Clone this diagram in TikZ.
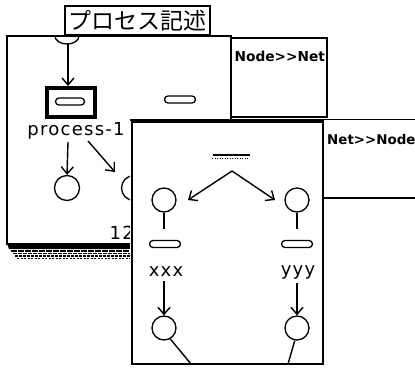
\documentclass[tikz,border=0pt]{standalone}
\usepackage{fontspec}
\newfontfamily\jpfont{Noto Sans CJK JP}
\newfontfamily\lblfont[LetterSpace=7]{DejaVu Sans}
\newfontfamily\panelfont{DejaVu Sans}
\usetikzlibrary{arrows.meta,shapes.misc}
\begin{document}
\begin{tikzpicture}[x=1pt,y=-1pt,line width=1.4pt,
  circ/.style={circle,draw,minimum size=24pt,inner sep=0pt,line width=1.3pt},
  caps/.style={rounded rectangle,draw,minimum width=31pt,minimum height=7pt,inner sep=0pt,line width=1.3pt},
  lbl/.style={inner sep=0pt,font=\lblfont\fontsize{18}{20}\selectfont},
  panel/.style={inner sep=0pt,anchor=west,font=\panelfont\bfseries\fontsize{13.7}{15}\selectfont},
  arr/.style={-{Straight Barb[length=7pt,width=12pt,line width=1.4pt]},line width=1.4pt},
  link/.style={line width=1.4pt}]
\useasboundingbox (0,0) rectangle (415,368);

% title
\node[draw,line width=1.4pt,minimum width=145pt,minimum height=29pt,inner sep=0pt,
      font=\jpfont\fontsize{23}{24}\selectfont] (title) at (137.5,20.5) {プロセス記述};

% back window shadow
\fill[black] (7,243) -- (133,243) -- (133,249) -- (9,249) -- cycle;
\draw[line width=1.3pt,dash pattern=on 6pt off 1pt] (11,251) -- (133,251);
\draw[line width=1.3pt,dash pattern=on 4pt off 1pt] (13,253.5) -- (133,253.5);
\draw[line width=1.2pt,dash pattern=on 3pt off 1pt] (15,256) -- (133,256);
\draw[line width=0.8pt,dash pattern=on 2pt off 1.5pt] (17,258) -- (133,258);

% back window
\draw[fill=white,line width=1.4pt] (7,36) rectangle (231,244);
\draw[fill=white,line width=1.4pt] (231,38) rectangle (327,117);
\node[panel] (n2n) at (234,56) {Node>{}>Net};

% back window content
\draw[line width=1.3pt] (55,36) arc[start angle=180,end angle=0,x radius=12,y radius=8];
\coordinate (src) at (68,44);
\node[draw,line width=4pt,minimum width=48pt,minimum height=29pt,inner sep=0pt] (sel) at (71,102.5) {};
\node[caps,minimum width=29pt] (c1) at (70,101.5) {};
\node[caps] (c2) at (180,99.5) {};
\draw[arr] (src) -- (src |- sel.north);
\node[lbl] (p1) at (76,131) {process-1};
\node[circ,minimum size=25pt] (ci1) at (67,188) {};
\node[circ,minimum size=25pt] (ci2) at (134,188) {};
\coordinate (d1) at (88,141);
\coordinate (d2) at (115,172);
\draw[arr] (68,142) -- (ci1.north);
\draw[arr] (d1) -- (d2);
\node[lbl,anchor=west] (n12) at (109,233) {12};

% front group
\fill[white] (130,120) rectangle (323,365);
\draw[line width=1.3pt] (130,120) -- (415,120);
\fill[white] (323,120) rectangle (415,198);
\draw[line width=1.3pt] (323,198) -- (415,198);
\draw[line width=2.8pt] (132,121.5) rectangle (323,364);
\node[panel,font=\panelfont\bfseries\fontsize{13.4}{15}\selectfont] (n2n2) at (326.5,139) {Net>{}>Node};

% front window content
\node[fill=black,minimum width=37pt,minimum height=2pt,inner sep=0pt] (bar) at (231.5,155) {};
\draw[line width=1pt,dash pattern=on 1pt off 1.5pt] (bar.south west) ++(0,2) -- ++(37,0);
\coordinate (ap) at (232,171);
\coordinate (al) at (188,200);
\coordinate (ar) at (275,200);
\draw[arr] (ap) -- (al);
\draw[arr] (ap) -- (ar);
\node[circ] (fl) at (164,200) {};
\node[circ] (fr) at (297,200) {};
\node[caps] (cl) at (165,244) {};
\node[caps] (cr) at (297,244) {};
\draw[link] (fl.south) -- ([yshift=11pt]fl.south |- cl.north);
\draw[link] (fr.south) -- ([yshift=11pt]fr.south |- cr.north);
\node[lbl] (xl) at (166,272) {xxx};
\node[lbl] (yl) at (298,272) {yyy};
\node[circ] (gl) at (164,328) {};
\node[circ] (gr) at (297,328) {};
\draw[arr] ([yshift=-3pt]xl.south -| gl.north) -- (gl.north);
\draw[arr] ([yshift=-3pt]yl.south -| gr.north) -- (gr.north);
\coordinate (bl) at (191,364);
\coordinate (br) at (288,364);
\draw[link] (gl.-60) -- (bl);
\draw[link] (gr.-100) -- (br);
\end{tikzpicture}
\end{document}
